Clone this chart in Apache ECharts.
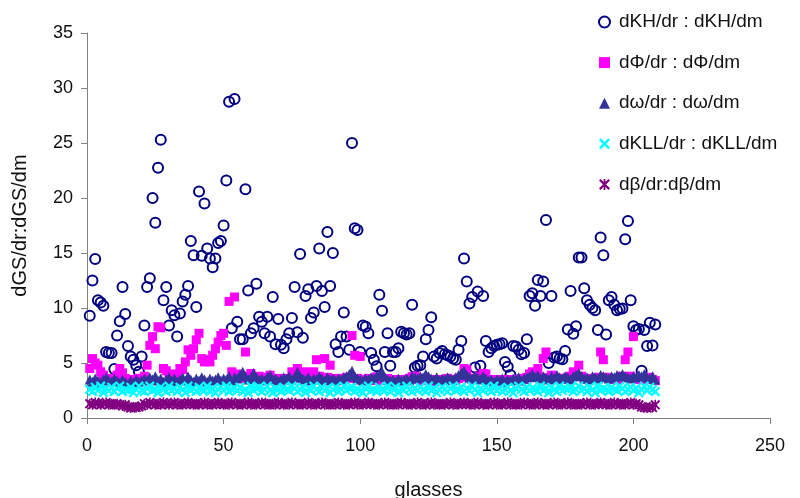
<!DOCTYPE html>
<html><head><meta charset="utf-8">
<script src="https://cdn.jsdelivr.net/npm/echarts@6/dist/echarts.min.js"></script>
<style>html,body{margin:0;padding:0;background:#fff}#c{width:800px;height:498px}</style>
</head><body><div id="c"></div>
<script>
const seriesNames = ['dKH/dr : dKH/dm', 'dΦ/dr : dΦ/dm', 'dω/dr : dω/dm', 'dKLL/dr : dKLL/dm', 'dβ/dr:dβ/dm'];
const xTicks = [0, 50, 100, 150, 200, 250];
const yTicks = [0, 5, 10, 15, 20, 25, 30, 35];

const kh = [
9.3,12.5,14.45,10.7,10.5,10.2,6.0,5.9,5.9,4.45,
7.5,8.8,11.9,9.45,6.55,5.6,5.3,4.8,4.2,5.6,
8.4,11.9,12.7,20.0,17.75,22.75,25.3,10.7,11.9,8.4,
9.8,9.35,7.4,9.5,10.6,11.2,12.0,16.1,14.8,10.1,
20.6,14.75,19.5,15.4,14.5,13.7,14.5,15.9,16.1,17.5,
21.6,28.75,8.15,29.0,8.75,7.15,7.15,20.8,11.6,7.7,
8.15,12.2,9.2,8.75,7.7,9.2,7.4,11.0,6.7,9.0,
6.65,6.35,7.15,7.7,9.1,11.9,7.8,14.9,7.3,11.1,
11.7,9.1,9.6,12.0,15.4,11.55,10.1,16.9,12.0,15.0,
6.7,6.0,7.4,9.6,7.4,6.2,25.0,17.25,17.1,6.0,
8.4,8.3,7.7,5.9,5.3,4.7,11.2,9.75,6.0,7.7,
4.75,6.0,6.0,6.35,7.85,7.7,7.6,7.7,10.3,4.6,
4.75,4.8,5.6,7.15,8.0,9.15,5.6,5.4,5.9,6.1,
5.8,5.7,5.6,5.4,5.3,6.2,7.0,14.5,12.4,10.4,
11.0,4.6,11.5,4.75,11.1,7.0,6.0,6.35,6.55,6.65,
6.7,6.8,5.1,4.65,3.9,6.55,6.5,6.2,5.8,5.9,
7.15,11.1,11.35,10.2,12.55,11.1,12.4,18.0,5.0,11.1,
5.5,5.6,5.4,5.35,6.1,8.05,11.55,7.65,8.35,14.6,
14.6,11.8,10.7,10.3,10.0,9.8,8.0,16.4,14.8,7.6,
10.7,11.0,10.3,9.8,9.9,9.95,16.25,17.9,10.7,8.35,
8.0,8.1,4.3,8.0,6.55,8.65,6.6,8.5];

const phi = [
4.5,5.4,5.0,4.8,4.2,3.9,3.6,3.4,3.5,3.6,
3.9,4.5,4.1,3.6,3.4,3.3,3.5,3.4,3.6,3.5,
3.8,4.8,6.6,7.4,6.3,8.3,8.2,4.5,4.3,4.0,
3.9,3.7,4.0,4.5,4.4,5.1,6.2,5.7,6.3,7.1,
7.7,5.4,5.1,5.3,5.1,5.7,6.3,6.9,7.5,7.7,
6.6,10.6,4.2,11.0,4.0,3.7,3.6,6.0,3.8,4.05,
3.5,3.6,3.8,3.5,3.7,3.6,3.9,3.6,3.5,3.6,
3.4,3.5,3.6,3.5,4.2,3.8,4.5,3.6,3.5,4.2,
3.7,3.6,4.2,5.3,3.8,3.6,5.4,3.7,4.8,3.6,
3.5,3.4,3.6,3.5,3.7,3.6,7.5,5.7,3.6,5.6,
3.5,3.4,3.6,3.5,3.4,3.75,3.5,3.4,3.5,3.6,
3.4,3.5,3.3,3.4,3.5,3.4,3.5,3.6,3.75,3.8,
3.5,3.4,3.5,3.6,3.4,3.5,3.4,3.3,3.5,3.4,
3.5,3.6,3.4,3.5,3.4,3.6,3.7,4.5,4.4,3.6,
3.5,3.6,3.7,3.8,4.05,4.0,3.5,3.4,3.5,3.4,
3.5,3.3,3.4,3.5,3.4,3.5,3.4,3.5,3.6,3.5,
3.7,4.0,4.2,3.8,4.5,3.7,5.4,6.0,3.6,3.9,
3.7,3.5,3.6,3.5,3.6,3.7,3.8,4.2,3.8,4.8,
3.8,3.6,3.5,3.6,3.5,3.6,3.7,6.0,5.3,3.7,
3.6,3.5,3.6,3.5,3.6,3.8,5.3,6.0,3.8,7.4,
3.6,3.5,3.6,3.5,3.6,3.7,3.5,3.4];

const omega = [
3.5,3.3,3.6,3.4,3.2,3.5,3.7,3.4,3.3,3.6,
3.4,3.2,3.5,3.3,3.1,3.4,3.2,3.5,3.3,3.4,
3.6,3.4,3.7,3.5,3.8,3.4,3.6,3.3,3.5,3.7,
3.4,3.6,3.3,3.5,3.7,3.4,3.8,3.5,3.3,3.6,
3.4,3.7,3.5,3.3,3.6,3.4,3.5,3.7,3.4,3.6,
3.5,3.8,3.4,3.7,3.6,3.9,4.2,3.8,3.5,3.7,
4.1,3.7,3.5,3.6,3.4,3.7,3.9,3.5,3.6,3.4,
3.5,3.7,3.6,3.8,3.5,3.7,4.2,3.8,3.6,3.5,
3.7,3.4,3.6,3.5,3.8,3.6,3.4,3.7,3.5,3.6,
3.4,3.6,3.5,3.7,3.8,4.0,4.3,3.8,3.6,3.5,
3.4,3.6,3.5,3.7,3.6,3.8,4.0,4.2,3.7,3.5,
3.4,3.5,3.3,3.6,3.4,3.5,3.6,3.4,3.8,3.7,
3.6,3.8,3.7,4.0,3.8,3.6,3.5,3.7,3.4,3.6,
3.5,3.7,3.6,3.5,3.7,3.9,4.1,4.3,3.9,3.7,
3.6,3.8,3.7,3.5,3.8,3.6,3.4,3.5,3.3,3.5,
3.4,3.6,3.3,3.5,3.4,3.6,3.5,3.7,3.4,3.6,
3.7,3.8,4.0,3.7,3.9,3.6,3.8,3.7,3.5,3.8,
3.6,3.9,3.7,3.6,3.8,3.7,3.5,3.8,3.9,4.1,
3.8,3.6,3.7,3.5,3.8,3.7,3.6,3.9,3.8,3.7,
3.6,3.8,3.7,3.9,3.8,4.0,3.8,3.7,3.6,3.8,
3.7,3.9,3.8,4.0,3.7,3.6,3.8,3.5];

const kll = [
2.6,2.4,2.8,2.5,2.9,2.3,2.7,2.5,2.8,2.4,
2.7,2.9,2.4,2.6,2.5,2.8,2.3,2.6,2.9,2.5,
2.4,2.7,2.9,2.5,2.6,2.3,2.8,2.6,2.4,2.9,
2.5,2.7,2.4,2.8,2.6,2.3,2.9,2.5,2.7,2.4,
2.8,2.6,2.5,2.9,2.4,2.7,2.3,2.6,2.8,2.5,
2.9,2.4,2.6,2.7,2.5,2.8,2.4,2.6,2.3,2.9,
2.5,2.7,2.8,2.4,2.6,2.9,2.5,2.3,2.7,2.6,
2.4,2.8,2.6,2.5,2.9,2.7,2.4,2.6,2.8,2.3,
2.7,2.5,2.9,2.6,2.4,2.8,2.5,2.7,2.3,2.6,
2.8,2.4,2.6,2.9,2.5,2.7,2.8,2.4,2.6,2.5,
2.3,2.7,2.9,2.5,2.6,2.4,2.8,2.6,2.5,2.9,
2.4,2.6,2.8,2.3,2.7,2.5,2.9,2.6,2.4,2.7,
2.5,2.8,2.6,2.4,2.9,2.5,2.7,2.3,2.6,2.8,
2.6,2.4,2.7,2.9,2.5,2.6,2.8,2.4,2.7,2.5,
2.9,2.6,2.3,2.7,2.5,2.8,2.6,2.4,2.9,2.5,
2.7,2.4,2.6,2.8,2.5,2.3,2.7,2.9,2.6,2.4,
2.8,2.5,2.7,2.6,2.4,2.9,2.5,2.7,2.3,2.8,
2.6,2.4,2.9,2.5,2.7,2.6,2.8,2.4,2.6,2.9,
2.5,2.7,2.4,2.8,2.6,2.3,2.9,2.5,2.7,2.6,
2.4,2.8,2.6,2.5,2.9,2.7,2.4,2.6,2.8,2.5,
2.7,2.3,2.6,2.9,2.5,2.8,2.6,2.4];

const beta = [
1.3,1.2,1.4,1.3,1.2,1.3,1.4,1.2,1.3,1.2,
1.3,1.2,1.1,1.2,1.0,0.9,1.0,0.95,1.0,1.1,
1.3,1.2,1.4,1.3,1.2,1.3,1.2,1.4,1.3,1.2,
1.3,1.4,1.2,1.3,1.2,1.3,1.4,1.3,1.2,1.3,
1.2,1.3,1.4,1.2,1.3,1.2,1.3,1.4,1.3,1.2,
1.3,1.2,1.4,1.3,1.2,1.3,1.2,1.3,1.4,1.2,
1.3,1.2,1.3,1.4,1.2,1.3,1.2,1.3,1.2,1.4,
1.3,1.2,1.3,1.2,1.4,1.3,1.2,1.3,1.2,1.3,
1.4,1.2,1.3,1.2,1.3,1.4,1.2,1.3,1.2,1.3,
1.2,1.4,1.3,1.2,1.3,1.2,1.3,1.4,1.2,1.3,
1.2,1.3,1.4,1.3,1.2,1.3,1.2,1.3,1.4,1.2,
1.3,1.2,1.3,1.2,1.4,1.3,1.2,1.3,1.2,1.3,
1.4,1.2,1.3,1.2,1.3,1.4,1.2,1.3,1.2,1.3,
1.2,1.3,1.4,1.2,1.3,1.2,1.3,1.4,1.3,1.2,
1.3,1.2,1.4,1.3,1.2,1.3,1.2,1.3,1.4,1.2,
1.3,1.2,1.3,1.4,1.2,1.3,1.2,1.3,1.2,1.4,
1.3,1.2,1.3,1.2,1.4,1.3,1.2,1.3,1.2,1.3,
1.4,1.2,1.3,1.2,1.3,1.4,1.2,1.3,1.2,1.3,
1.2,1.3,1.4,1.2,1.3,1.2,1.3,1.4,1.3,1.2,
1.3,1.2,1.4,1.3,1.2,1.3,1.2,1.3,1.4,1.2,
1.3,1.2,1.0,0.95,0.9,1.0,0.95,1.2];

const pair = arr => arr.map((v, i) => [i + 1, v]);

const X_PATH = 'path://M0,1.6 L1.6,0 L5,3.4 L8.4,0 L10,1.6 L6.6,5 L10,8.4 L8.4,10 L5,6.6 L1.6,10 L0,8.4 L3.4,5 Z';
const STAR_PATH = 'path://M0,1.4 L1.4,0 L5,3.6 L8.6,0 L10,1.4 L6.4,5 L10,8.6 L8.6,10 L5,6.4 L1.4,10 L0,8.6 L3.6,5 Z M4.2,0 L5.8,0 L5.8,10 L4.2,10 Z';
const FONT = '"Liberation Sans", Arial, sans-serif';

const chart = echarts.init(document.getElementById('c'), null, {renderer: 'canvas'});
chart.setOption({
  animation: false,
  backgroundColor: '#fff',
  textStyle: {fontFamily: FONT},
  grid: {left: 87, right: 30, top: 33, bottom: 80, containLabel: false, outerBoundsMode: 'none'},
  legend: {
    orient: 'vertical', left: 593, top: 7,
    itemWidth: 11, itemHeight: 11, itemGap: 20.6,
    textStyle: {fontFamily: FONT, fontSize: 19, lineHeight: 20, color: '#111', padding: [0, 0, 0, 4]},
    data: seriesNames
  },
  xAxis: {
    type: 'value', min: xTicks[0], max: xTicks[xTicks.length - 1], interval: 50,
    name: 'glasses', nameLocation: 'middle', nameGap: 62,
    nameTextStyle: {fontFamily: FONT, fontSize: 20, color: '#111'},
    axisLine: {onZero: false, lineStyle: {color: '#808080', width: 1}},
    axisTick: {show: true, inside: false, length: 6, lineStyle: {color: '#808080'}},
    axisLabel: {fontFamily: FONT, fontSize: 18, color: '#111', margin: 19},
    splitLine: {show: false}
  },
  yAxis: {
    type: 'value', min: yTicks[0], max: yTicks[yTicks.length - 1], interval: 5,
    name: 'dGS/dr:dGS/dm', nameLocation: 'middle', nameGap: 57, nameRotate: 90,
    nameTextStyle: {fontFamily: FONT, fontSize: 20, color: '#111'},
    axisLine: {show: true, lineStyle: {color: '#808080', width: 1}},
    axisTick: {show: true, inside: false, length: 6, lineStyle: {color: '#808080'}},
    axisLabel: {fontFamily: FONT, fontSize: 18, color: '#111', margin: 14},
    splitLine: {show: false}
  },
  series: [
    {name: seriesNames[0], type: 'scatter', data: pair(kh), symbol: 'circle', symbolSize: 10,
     itemStyle: {color: 'rgba(255,255,255,0)', borderColor: '#000080', borderWidth: 2, opacity: 1}},
    {name: seriesNames[1], type: 'scatter', data: pair(phi), symbol: 'rect', symbolSize: 9,
     itemStyle: {color: '#ff00ff', opacity: 1}},
    {name: seriesNames[2], type: 'scatter', data: pair(omega), symbol: 'triangle', symbolSize: 10,
     itemStyle: {color: '#333399', opacity: 1}},
    {name: seriesNames[3], type: 'scatter', data: pair(kll), symbol: X_PATH, symbolSize: 10,
     itemStyle: {color: '#00ffff', opacity: 1}},
    {name: seriesNames[4], type: 'scatter', data: pair(beta), symbol: STAR_PATH, symbolSize: 10,
     itemStyle: {color: '#800080', opacity: 1}}
  ]
});
</script>
</body></html>
